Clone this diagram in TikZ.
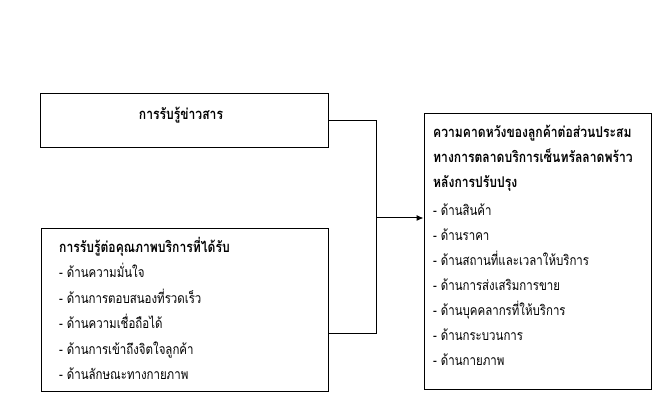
\documentclass[tikz,border=0pt]{standalone}
\usepackage{fontspec}
\newfontfamily\thai[Script=Thai,FakeStretch=0.82]{Loma}
\usetikzlibrary{arrows.meta}
\begin{document}
\begin{tikzpicture}[x=1pt,y=-1pt,
  box/.style={draw,line width=1pt,inner sep=0pt},
  ln/.style={anchor=base west,inner sep=0pt,font=\thai\fontsize{14}{16}\selectfont},
  hd/.style={ln,font=\thai\bfseries\fontsize{14.8}{16}\selectfont},
  conn/.style={line width=1pt}]
\useasboundingbox (0,0) rectangle (665,414);
\node[box,minimum width=288pt,minimum height=54pt] (b1) at (184.5,121) {};
\node[box,minimum width=287pt,minimum height=163pt] (b2) at (184.5,310.5) {};
\node[box,minimum width=227pt,minimum height=276pt] (b3) at (537.5,252) {};
\node[hd,anchor=base] (t1) at (181,120) {การรับรู้ข่าวสาร};
\node[hd] (t2) at (59,253) {การรับรู้ต่อคุณภาพบริการที่ได้รับ};
\node[ln] (a1) at (59,278) {- ด้านความมั่นใจ};
\node[ln] (a2) at (59,304) {- ด้านการตอบสนองที่รวดเร็ว};
\node[ln] (a3) at (59,329) {- ด้านความเชื่อถือได้};
\node[ln] (a4) at (59,355) {- ด้านการเข้าถึงจิตใจลูกค้า};
\node[ln] (a5) at (59,380) {- ด้านลักษณะทางกายภาพ};
\node[hd] (h1) at (433,138) {ความคาดหวังของลูกค้าต่อส่วนประสม};
\node[hd] (h2) at (433,163) {ทางการตลาดบริการเซ็นทรัลลาดพร้าว};
\node[hd] (h3) at (433,188) {หลังการปรับปรุง};
\node[ln] (c1) at (433,216) {- ด้านสินค้า};
\node[ln] (c2) at (433,241) {- ด้านราคา};
\node[ln] (c3) at (433,266) {- ด้านสถานที่และเวลาให้บริการ};
\node[ln] (c4) at (433,291) {- ด้านการส่งเสริมการขาย};
\node[ln] (c5) at (433,316) {- ด้านบุคคลากรที่ให้บริการ};
\node[ln] (c6) at (433,341) {- ด้านกระบวนการ};
\node[ln] (c7) at (433,366) {- ด้านกายภาพ};
\coordinate (jm) at (376,218);
\coordinate (jb) at (376,334);
\draw[conn] (b1.east) -| (jm);
\draw[conn] (b2.east |- jb) -| (jm);
\draw[conn,-{Latex[length=7pt,width=6pt]}] (jm) -- (b3.west |- jm);
\end{tikzpicture}
\end{document}
